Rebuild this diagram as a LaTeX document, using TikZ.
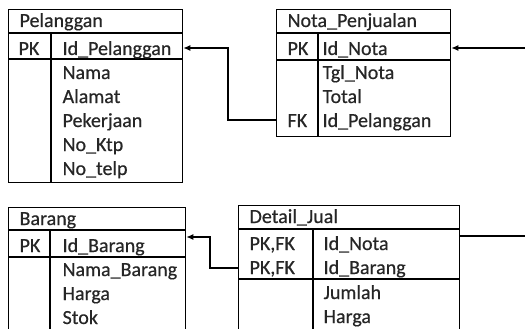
\documentclass[tikz,border=0pt]{standalone}
\usepackage{fontspec}
\setmainfont{Carlito}
\newfontfamily\tfont{Carlito}[FakeBold=0.5]
\usetikzlibrary{arrows.meta}
\begin{document}
\begin{tikzpicture}[x=1pt,y=-1pt,line width=1.2pt,
  txt/.style={anchor=base west,inner sep=0pt,font=\tfont\fontsize{20}{23}\selectfont,text=black!85},
  tbox/.style={draw,anchor=north west,inner sep=0pt,line width=1.3pt},
  conn/.style={line width=1.2pt},
  arr/.style={conn,-{Latex[length=7pt,width=6pt]}}]
\useasboundingbox (0,0) rectangle (525,329);
\clip (0,0) rectangle (525,329);
% ---------- Pelanggan ----------
\node[tbox,minimum width=174pt,minimum height=173pt] (pel) at (8,9) {};
\draw (pel.west |- 0,33) -- (pel.east |- 0,33);
\draw (pel.west |- 0,59) -- (pel.east |- 0,59);
\draw (51,33) -- (51,182);
\node[txt] (pelT) at (19,27) {Pelanggan};
\node[txt] (pelPK) at (18,55) {PK};
\node[txt] (pelA1) at (62,55) {Id\_Pelanggan};
\node[txt] (pelA2) at (62,79) {Nama};
\node[txt] (pelA3) at (62,103) {Alamat};
\node[txt] (pelA4) at (62,127) {Pekerjaan};
\node[txt] (pelA5) at (62,151) {No\_Ktp};
\node[txt] (pelA6) at (62,175) {No\_telp};
% ---------- Nota_Penjualan ----------
\node[tbox,minimum width=174pt,minimum height=127pt] (nota) at (276,9) {};
\draw (nota.west |- 0,33) -- (nota.east |- 0,33);
\draw (nota.west |- 0,60) -- (nota.east |- 0,60);
\draw (318,33) -- (318,136);
\node[txt] (notaT) at (287,27) {Nota\_Penjualan};
\node[txt] (notaPK) at (287,55) {PK};
\node[txt] (notaA1) at (322,55) {Id\_Nota};
\node[txt] (notaA2) at (322,79) {Tgl\_Nota};
\node[txt] (notaA3) at (322,103) {Total};
\node[txt] (notaFK) at (287,127) {FK};
\node[txt] (notaA4) at (322,127) {Id\_Pelanggan};
% ---------- Barang ----------
\node[tbox,minimum width=177pt,minimum height=140pt] (bar) at (8,207) {};
\draw (bar.west |- 0,230) -- (bar.east |- 0,230);
\draw (bar.west |- 0,257) -- (bar.east |- 0,257);
\draw (50,230) -- (50,340);
\node[txt] (barT) at (19,225) {Barang};
\node[txt] (barPK) at (19,252) {PK};
\node[txt] (barA1) at (62,252) {Id\_Barang};
\node[txt] (barA2) at (62,276) {Nama\_Barang};
\node[txt] (barA3) at (62,300) {Harga};
\node[txt] (barA4) at (62,324) {Stok};
% ---------- Detail_Jual ----------
\node[tbox,minimum width=221pt,minimum height=140pt] (det) at (238,205) {};
\draw (det.west |- 0,229) -- (det.east |- 0,229);
\draw (det.west |- 0,279) -- (det.east |- 0,279);
\draw (313,229) -- (313,340);
\node[txt] (detT) at (249,223) {Detail\_Jual};
\node[txt] (detK1) at (249,250) {PK,FK};
\node[txt] (detA1) at (323,250) {Id\_Nota};
\node[txt] (detK2) at (249,274) {PK,FK};
\node[txt] (detA2) at (323,274) {Id\_Barang};
\node[txt] (detA3) at (323,299) {Jumlah};
\node[txt] (detA4) at (323,323) {Harga};
% ---------- connectors ----------
\coordinate (edgeTop) at (526,48);
\coordinate (edgeBot) at (526,236);
\draw[arr] (nota.west |- 0,120) -- (228,120) -- (228,48) -- (pel.east |- 0,48);
\draw[arr] (edgeTop) -- (nota.east |- 0,48);
\draw[conn] (det.east |- 0,236) -- (edgeBot);
\draw[arr] (det.west |- 0,268) -- (210,268) -- (210,237) -- (bar.east |- 0,237);
\end{tikzpicture}
\end{document}
